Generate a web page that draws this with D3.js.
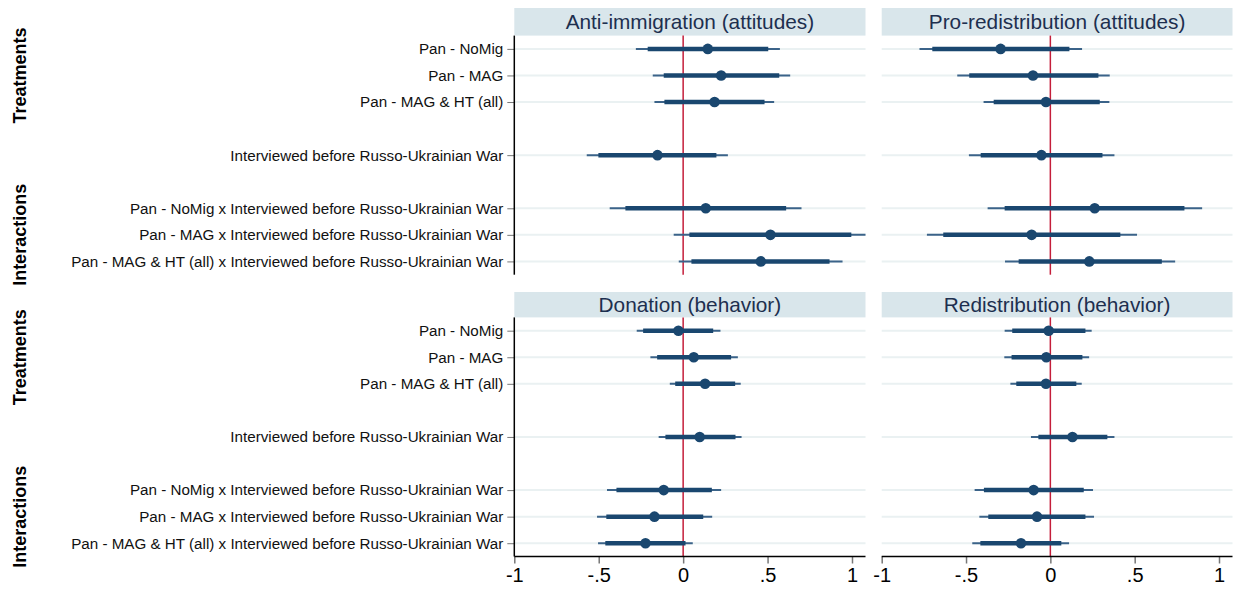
<!DOCTYPE html>
<html>
<head>
<meta charset="utf-8">
<script src="https://cdn.jsdelivr.net/npm/d3@7"></script>
<style>
  body { margin: 0; background: #fff; }
  svg { display: block; font-family: "Liberation Sans", Arial, Helvetica, sans-serif; }
</style>
</head>
<body>
<svg id="chart" width="1237" height="590"></svg>
<script>
// row slots (null = empty spacer row)
const terms = [
  "Pan - NoMig",
  "Pan - MAG",
  "Pan - MAG & HT (all)",
  null,
  "Interviewed before Russo-Ukrainian War",
  null,
  "Pan - NoMig x Interviewed before Russo-Ukrainian War",
  "Pan - MAG x Interviewed before Russo-Ukrainian War",
  "Pan - MAG & HT (all) x Interviewed before Russo-Ukrainian War"
];
const groups = [
  { name: "Treatments", slot: 1 },
  { name: "Interactions", slot: 7 }
];
const panelTitles = [
  "Anti-immigration (attitudes)",
  "Pro-redistribution (attitudes)",
  "Donation (behavior)",
  "Redistribution (behavior)"
];
const xTicks = [-1, -0.5, 0, 0.5, 1];
const xTickLabels = ["-1", "-.5", "0", ".5", "1"];

// estimates per panel, one value per non-empty term
const antiImmEst  = [0.146, 0.225, 0.186, -0.152, 0.134, 0.517, 0.460];
const antiImmLo95 = [-0.280, -0.180, -0.170, -0.571, -0.435, -0.056, -0.026];
const antiImmHi95 = [0.573, 0.634, 0.539, 0.265, 0.701, 1.090, 0.944];
const antiImmLo90 = [-0.210, -0.115, -0.111, -0.502, -0.342, 0.037, 0.049];
const antiImmHi90 = [0.504, 0.569, 0.482, 0.197, 0.610, 0.996, 0.867];

const proRedEst  = [-0.295, -0.103, -0.026, -0.053, 0.263, -0.111, 0.231];
const proRedLo95 = [-0.776, -0.552, -0.396, -0.483, -0.372, -0.732, -0.269];
const proRedHi95 = [0.188, 0.352, 0.350, 0.380, 0.900, 0.514, 0.740];
const proRedLo90 = [-0.700, -0.481, -0.336, -0.413, -0.271, -0.635, -0.188];
const proRedHi90 = [0.113, 0.285, 0.293, 0.309, 0.795, 0.415, 0.661];

const donEst  = [-0.028, 0.063, 0.130, 0.098, -0.115, -0.170, -0.223];
const donLo95 = [-0.275, -0.194, -0.079, -0.145, -0.451, -0.510, -0.504];
const donHi95 = [0.221, 0.324, 0.341, 0.346, 0.225, 0.172, 0.057];
const donLo90 = [-0.237, -0.154, -0.047, -0.105, -0.395, -0.455, -0.461];
const donHi90 = [0.178, 0.284, 0.308, 0.310, 0.170, 0.119, 0.014];

const redEst  = [-0.010, -0.024, -0.026, 0.131, -0.099, -0.079, -0.174];
const redLo95 = [-0.271, -0.273, -0.237, -0.115, -0.449, -0.421, -0.463];
const redHi95 = [0.245, 0.230, 0.186, 0.380, 0.253, 0.259, 0.111];
const redLo90 = [-0.226, -0.230, -0.202, -0.071, -0.394, -0.368, -0.415];
const redHi90 = [0.208, 0.190, 0.154, 0.338, 0.198, 0.208, 0.065];

const panelData = [
  [antiImmEst, antiImmLo95, antiImmHi95, antiImmLo90, antiImmHi90],
  [proRedEst, proRedLo95, proRedHi95, proRedLo90, proRedHi90],
  [donEst, donLo95, donHi95, donLo90, donHi90],
  [redEst, redLo95, redHi95, redLo90, redHi90]
];

const navy = "#1a476f",
      zeroRed = "#c41e3a",
      stripFill = "#d9e6eb",
      gridColor = "#eaf1f2",
      titleColor = "#1d2f4f";

const svg = d3.select("#chart");

const colX = [[514.3, 865.5], [881.7, 1232.5]];
const rowY = [[8, 35.6, 274.7], [292, 317.4, 556.5]]; // strip top, plot top, plot bottom
const slots = d3.range(terms.length);
const filled = slots.filter(i => terms[i] !== null);

panelTitles.forEach((title, p) => {
  const col = p % 2, row = Math.floor(p / 2);
  const [x0, x1] = colX[col];
  const [sTop, pTop, pBot] = rowY[row];

  const x = d3.scaleLinear().domain([-1, 1.08]).range([x0, x1]);
  const y = d3.scaleLinear().domain([-0.5, terms.length - 0.5]).range([pTop, pBot]);

  const g = svg.append("g");
  const clipId = "clip" + p;
  g.append("clipPath").attr("id", clipId)
    .append("rect").attr("x", x0).attr("y", pTop).attr("width", x1 - x0).attr("height", pBot - pTop);

  // strip
  g.append("rect")
    .attr("x", x0).attr("y", sTop)
    .attr("width", x1 - x0).attr("height", pTop - sTop)
    .attr("fill", stripFill);
  g.append("text")
    .attr("x", (x0 + x1) / 2).attr("y", (sTop + pTop) / 2 + 7.5)
    .attr("text-anchor", "middle")
    .attr("font-size", 20.8)
    .attr("fill", titleColor)
    .text(title);

  // gridlines
  g.selectAll(".grid").data(filled).join("line")
    .attr("x1", x0).attr("x2", x1)
    .attr("y1", d => y(d)).attr("y2", d => y(d))
    .attr("stroke", gridColor).attr("stroke-width", 2);

  // zero line
  g.append("line")
    .attr("x1", x(0)).attr("x2", x(0))
    .attr("y1", pTop).attr("y2", pBot)
    .attr("stroke", zeroRed).attr("stroke-width", 1.5);

  const [est, lo95, hi95, lo90, hi90] = panelData[p];
  const pts = filled.map((s, i) => ({ s, est: est[i], lo95: lo95[i], hi95: hi95[i], lo90: lo90[i], hi90: hi90[i] }));

  const marks = g.append("g").attr("clip-path", `url(#${clipId})`);
  marks.selectAll(".ci95").data(pts).join("line")
    .attr("x1", d => x(d.lo95)).attr("x2", d => x(d.hi95))
    .attr("y1", d => y(d.s)).attr("y2", d => y(d.s))
    .attr("stroke", "#3b6389").attr("stroke-width", 2);
  marks.selectAll(".ci90").data(pts).join("line")
    .attr("x1", d => x(d.lo90)).attr("x2", d => x(d.hi90))
    .attr("y1", d => y(d.s)).attr("y2", d => y(d.s))
    .attr("stroke", navy).attr("stroke-width", 4.5);
  marks.selectAll("circle").data(pts).join("circle")
    .attr("cx", d => x(d.est)).attr("cy", d => y(d.s))
    .attr("r", 5.3).attr("fill", navy);

  // y axis on left column
  if (col === 0) {
    const yAxis = d3.axisLeft(y)
      .tickValues(filled)
      .tickFormat(i => terms[i])
      .tickSize(7).tickPadding(4);
    const ga = g.append("g").attr("transform", `translate(${x0},0)`).call(yAxis);
    ga.select(".domain").remove();
    ga.selectAll(".tick line").attr("stroke", "#777");
    ga.selectAll(".tick text").attr("font-size", 15.2).attr("fill", "#111")
      .attr("font-family", '"Liberation Sans", Arial, sans-serif');
    g.append("line")
      .attr("x1", x0).attr("x2", x0).attr("y1", pTop).attr("y2", pBot)
      .attr("stroke", "#000").attr("stroke-width", 1.5);

    groups.forEach(gr => {
      g.append("text")
        .attr("transform", `translate(26,${y(gr.slot)}) rotate(-90)`)
        .attr("text-anchor", "middle")
        .attr("font-size", 18).attr("font-weight", "bold")
        .attr("fill", "#000")
        .text(gr.name);
    });
  }

  // x axis on bottom row
  if (row === 1) {
    const xAxis = d3.axisBottom(x)
      .tickValues(xTicks)
      .tickFormat((d, i) => xTickLabels[i])
      .tickSize(7).tickPadding(4);
    const gx = g.append("g").attr("transform", `translate(0,${pBot})`).call(xAxis);
    gx.select(".domain").remove();
    gx.selectAll(".tick line").attr("stroke", "#777").attr("stroke-width", 1.5);
    gx.selectAll(".tick text").attr("font-size", 20).attr("fill", "#000")
      .attr("font-family", '"Liberation Sans", Arial, sans-serif');
    g.append("line")
      .attr("x1", x0).attr("x2", x1).attr("y1", pBot).attr("y2", pBot)
      .attr("stroke", "#000").attr("stroke-width", 1.5);
  }
});
</script>
</body>
</html>
